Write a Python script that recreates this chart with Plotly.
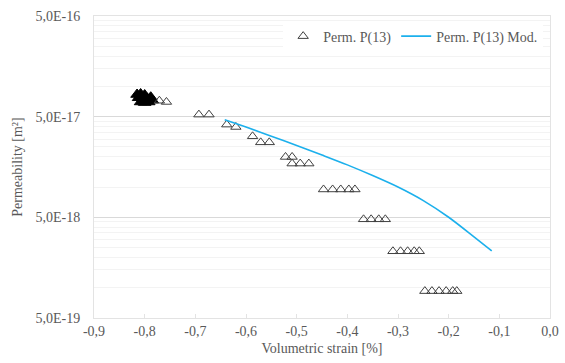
import plotly.graph_objects as go

# Measured permeability (open triangles)
meas_x = [-0.771, -0.757, -0.693, -0.673, -0.638, -0.620, -0.587, -0.571, -0.554,
          -0.522, -0.509, -0.509, -0.493, -0.476,
          -0.447, -0.429, -0.413, -0.397, -0.385,
          -0.368, -0.353, -0.338, -0.325,
          -0.310, -0.295, -0.281, -0.268, -0.258,
          -0.247, -0.233, -0.219, -0.205, -0.192, -0.184]
meas_y = [7.2e-17, 7.0e-17, 5.24e-17, 5.24e-17, 4.17e-17, 3.95e-17, 3.19e-17, 2.78e-17, 2.78e-17,
          1.99e-17, 1.99e-17, 1.71e-17, 1.71e-17, 1.71e-17,
          9.46e-18, 9.46e-18, 9.46e-18, 9.46e-18, 9.46e-18,
          4.78e-18, 4.78e-18, 4.78e-18, 4.78e-18,
          2.30e-18, 2.30e-18, 2.30e-18, 2.30e-18, 2.30e-18,
          9.25e-19, 9.25e-19, 9.25e-19, 9.25e-19, 9.25e-19, 9.25e-19]

# Dense cluster of measurements at the start (overlapping markers)
dense_x = [-0.815, -0.808, -0.800, -0.812, -0.803, -0.795, -0.808, -0.800, -0.792, -0.785, -0.788]
dense_y = [8.3e-17, 8.4e-17, 8.2e-17, 7.7e-17, 7.5e-17, 7.6e-17, 7.0e-17, 6.9e-17, 7.0e-17, 7.3e-17, 7.8e-17]

# Model curve
model_x = [-0.642, -0.60, -0.55, -0.50, -0.45, -0.40, -0.35, -0.30, -0.25, -0.20, -0.15, -0.115]
model_y = [4.67e-17, 3.94e-17, 3.20e-17, 2.59e-17, 2.08e-17, 1.66e-17, 1.30e-17, 1.00e-17,
           7.33e-18, 5.01e-18, 3.20e-18, 2.32e-18]

x_ticks = [-0.9, -0.8, -0.7, -0.6, -0.5, -0.4, -0.3, -0.2, -0.1, 0.0]
x_labels = ["-0,9", "-0,8", "-0,7", "-0,6", "-0,5", "-0,4", "-0,3", "-0,2", "-0,1", "0,0"]
y_ticks = [5e-19, 5e-18, 5e-17, 5e-16]
y_labels = ["5,0E-19", "5,0E-18", "5,0E-17", "5,0E-16"]

minor_vals = [k * 5 * 10.0 ** e for e in (-19, -18, -17) for k in range(2, 10)]

FONT = "Liberation Serif"
TXT = "#595959"
FS = 14

fig = go.Figure()
fig.add_trace(go.Scatter(
    x=dense_x, y=dense_y, mode="markers", showlegend=False, hoverinfo="skip",
    marker=dict(symbol="triangle-up", size=11, color="#000000",
                line=dict(color="#000000", width=1))))
fig.add_trace(go.Scatter(
    x=meas_x, y=meas_y, mode="markers", name="Perm. P(13)",
    marker=dict(symbol="triangle-up-open", size=9, color="#404040",
                line=dict(color="#404040", width=1))))
fig.add_trace(go.Scatter(
    x=model_x, y=model_y, mode="lines", name="Perm. P(13) Mod.",
    line=dict(color="#1CB0EC", width=1.6, shape="spline", smoothing=0.8)))

fig.update_layout(
    width=565, height=363,
    margin=dict(l=94, r=15, t=16, b=45),
    paper_bgcolor="white", plot_bgcolor="white",
    font=dict(family=FONT, size=FS, color=TXT),
    legend=dict(orientation="h", x=0.985, xanchor="right", y=0.985, yanchor="top",
                bgcolor="white", font=dict(family=FONT, size=FS, color=TXT),
                itemwidth=30, traceorder="normal"),
)
fig.update_xaxes(
    range=[-0.9, 0.0], tickmode="array", tickvals=x_ticks, ticktext=x_labels,
    showgrid=False, zeroline=False, automargin=False,
    showline=True, linecolor="#E3E3E3", linewidth=1, mirror=True,
    ticks="inside", ticklen=4, tickcolor="#E3E3E3",
    title=dict(text="Volumetric strain [%]", font=dict(family=FONT, size=FS, color=TXT), standoff=5),
    tickfont=dict(family=FONT, size=FS, color=TXT),
)
fig.update_yaxes(
    type="log", range=[-18.30103, -15.30103], automargin=False,
    tickmode="array", tickvals=y_ticks, ticktext=y_labels,
    showgrid=True, gridcolor="#D9D9D9", gridwidth=1, zeroline=False,
    showline=True, linecolor="#E3E3E3", linewidth=1, mirror=True,
    minor=dict(tickmode="array", tickvals=minor_vals, showgrid=True,
               gridcolor="#F3F3F3", gridwidth=1, ticks=""),
    ticklabelstandoff=10,
    title=dict(text="Permeability [m²]", font=dict(family=FONT, size=FS, color=TXT), standoff=9),
    tickfont=dict(family=FONT, size=FS, color=TXT),
)

fig.write_html("out.html", config={"displayModeBar": False},
               post_script="document.body.style.margin='0';")
